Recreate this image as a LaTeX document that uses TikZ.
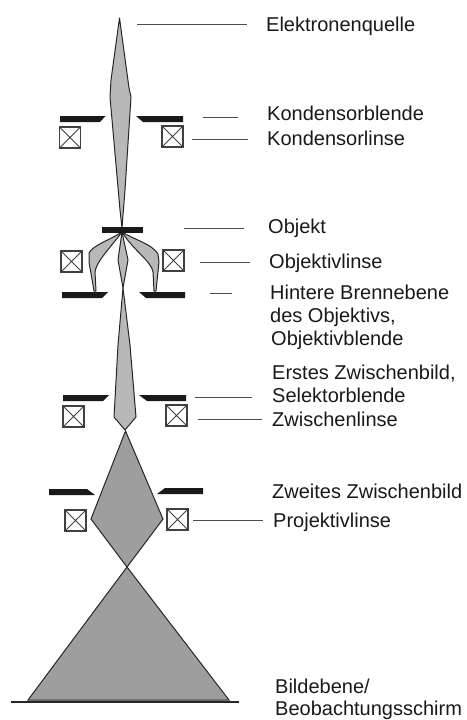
\documentclass[tikz,border=0pt]{standalone}
\usepackage{fontspec}
\setmainfont{Liberation Sans}
\definecolor{beam}{gray}{0.72}
\definecolor{beamd}{gray}{0.62}
\definecolor{ink}{gray}{0.15}
\tikzset{
  every picture/.style={x=1pt,y=-1pt},
  beamshape/.style={draw=ink,line width=1pt,fill=beam,line join=round},
  beamdark/.style={draw=ink,line width=1pt,fill=beamd,line join=miter},
  plate/.style={fill=black!90,draw=none},
  coil/.style={draw=black!75,line width=1.2pt,minimum size=21pt,inner sep=0pt,path picture={\draw[black!75,line width=0.9pt] (path picture bounding box.north west)--(path picture bounding box.south east) (path picture bounding box.north east)--(path picture bounding box.south west);}},
  lab/.style={anchor=base west,align=left,inner sep=0pt,text=black!90,font=\fontsize{20}{23}\selectfont},
  leader/.style={draw=black!70,line width=0.8pt},
}
\begin{document}
\begin{tikzpicture}
\useasboundingbox (0,0) rectangle (466,720);
% beams
\path[beamshape] (119.5,18) -- (111,80) -- (110,97) -- (120,210) -- (122,228) -- (125,190) -- (131,97) -- (129,88) -- cycle;
\path[beamshape] (122,232) .. controls (110,240) and (93,245) .. (89,253) -- (89,262) -- (94,291) -- (96,291) -- (95,272) .. controls (96,262) and (110,248) .. cycle;
\path[beamshape] (122,232) .. controls (133,250) and (152,262) .. (153,272) -- (154,291) -- (156,291) -- (159,262) -- (158,254) .. controls (152,244) and (135,240) .. cycle;
\path[beamshape] (122,232) -- (118,260) -- (123,288) -- (128,260) -- cycle;
\path[beamshape] (123,288) -- (118,345) -- (114,417) -- (125,430) -- (136,417) -- (130,345) -- cycle;
\path[beamdark] (125.5,431) -- (91,519) -- (127,567) -- (163,519) -- cycle;
\path[beamdark] (127,567) -- (28,700) -- (229,700) -- cycle;
\draw[line width=1.6pt,black!85] (11,702) -- (239,702);
% apertures
\path[plate] (60,116) -- (105.5,116) -- (100,122) -- (60,122) -- cycle;
\path[plate] (136,116) -- (183,116) -- (183,122) -- (143,122) -- cycle;
\path[plate] (102,227) rectangle (143,233);
\path[plate] (62,292) -- (108,292) -- (102,298) -- (62,298) -- cycle;
\path[plate] (139,292) -- (185,292) -- (185,298) -- (146,298) -- cycle;
\path[plate] (63,395) -- (109,395) -- (103,401) -- (63,401) -- cycle;
\path[plate] (139,395) -- (186,395) -- (186,401) -- (147,401) -- cycle;
\path[plate] (49,489) -- (87,489) -- (95,495) -- (49,495) -- cycle;
\path[plate] (157,494) -- (165,488) -- (203,488) -- (203,494) -- cycle;
% coils
\node[coil] (c1l) at (70,137.5) {};
\node[coil] (c1r) at (172.5,136.5) {};
\node[coil] (c2l) at (71.5,261.5) {};
\node[coil] (c2r) at (173.5,260.5) {};
\node[coil] (c3l) at (73.5,416.5) {};
\node[coil] (c3r) at (176.5,415.5) {};
\node[coil] (c4l) at (75.5,520.5) {};
\node[coil] (c4r) at (177.5,519.5) {};
% labels
\node[lab] (l1) at (266,31) {Elektronenquelle};
\node[lab] (l2) at (267,120) {Kondensorblende};
\node[lab] (l3) at (267,145) {Kondensorlinse};
\node[lab] (l4) at (268,233) {Objekt};
\node[lab] (l5) at (269,268) {Objektivlinse};
\node[lab] (l6a) at (270,299) {Hintere Brennebene};
\node[lab] (l6b) at (270,322) {des Objektivs,};
\node[lab] (l6c) at (271,345) {Objektivblende};
\node[lab] (l7a) at (272,379) {Erstes Zwischenbild,};
\node[lab] (l7b) at (272,402) {Selektorblende};
\node[lab] (l8) at (272,426) {Zwischenlinse};
\node[lab] (l9) at (272,498) {Zweites Zwischenbild};
\node[lab] (l10) at (273,527) {Projektivlinse};
\node[lab] (l11a) at (275,693) {Bildebene/};
\node[lab] (l11b) at (275,715) {Beobachtungsschirm};
% leaders
\coordinate (a1) at (137,24); \coordinate (b1) at (247,24);
\coordinate (a2) at (203,117); \coordinate (b2) at (238,117);
\coordinate (a3) at (192,139); \coordinate (b3) at (248,139);
\coordinate (a4) at (184,228); \coordinate (b4) at (244,228);
\coordinate (a5) at (200,262); \coordinate (b5) at (250,262);
\coordinate (a6) at (210,293); \coordinate (b6) at (232,293);
\coordinate (a7) at (195,397); \coordinate (b7) at (252,397);
\coordinate (a8) at (198,419); \coordinate (b8) at (262,419);
\coordinate (a9) at (193,520); \coordinate (b9) at (263,520);
\foreach \i in {1,...,9} \draw[leader] (a\i) -- (b\i);
\end{tikzpicture}
\end{document}
